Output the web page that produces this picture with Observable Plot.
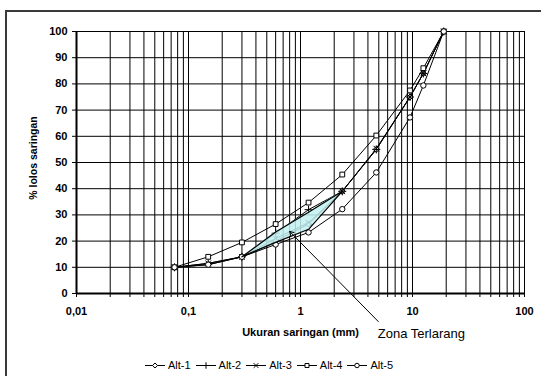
<!DOCTYPE html>
<html>
<head>
<meta charset="utf-8">
<script src="https://cdn.jsdelivr.net/npm/d3@7"></script>
<script src="https://cdn.jsdelivr.net/npm/@observablehq/plot@0.6"></script>
<style>
  html, body { margin: 0; padding: 0; background: #fff; overflow: hidden; }
  body { width: 541px; height: 376px; position: relative; font-family: "Liberation Sans", Arial, sans-serif; }
  #frame { position: absolute; left: 5px; top: 10px; width: 600px; height: 420px; border: 2px solid #3a3a3a; box-sizing: border-box; pointer-events: none; }
  #chart { position: absolute; left: 0; top: 0; }
  #ytitle { position: absolute; left: 33px; top: 158px; transform: translate(-50%, -50%) rotate(-90deg); font-weight: bold; font-size: 10.5px; white-space: nowrap; color: #000; }
  #legend { position: absolute; left: 0; top: 355px; width: 538px; height: 20px; display: flex; justify-content: center; align-items: center; font-size: 11px; color: #000; }
  .item { display: flex; align-items: center; margin: 0 2.5px; }
  .item span { margin-left: 3px; }
</style>
</head>
<body>
<div id="chart"></div>
<div id="ytitle">% lolos saringan</div>
<div id="legend"></div>
<div id="frame"></div>
<script>
// Sieve sizes (mm)
const sizes = [0.075, 0.15, 0.3, 0.6, 1.18, 2.36, 4.75, 9.5, 12.5, 19];
// % passing for each alternative
const alt1 = [10, 11, 14, 20, 26.5, 39, 55, 75, 84, 100];
const alt2 = [10, 11.5, 14, 23, 32, 39, 55, 75, 84, 100];
const alt3 = [10, 11.5, 14, 21, 27, 39, 55.3, 75, 84, 100];
const alt4 = [10, 14, 19.5, 26.5, 34.7, 45.4, 60.3, 77.5, 86, 100];
const alt5 = [10, 11, 14, 18.7, 23.3, 32.2, 46.2, 67.2, 79.4, 100];
const seriesNames = ["Alt-1", "Alt-2", "Alt-3", "Alt-4", "Alt-5"];
const seriesSymbols = ["diamond2", "plus", "times", "square", "circle"];

// Restricted zone (Zona Terlarang)
const zoneX = [0.3, 0.6, 1.18, 2.36];
const zoneLow = [14, 19.5, 24.5, 39];
const zoneHigh = [14, 23.5, 31, 39];

// Annotation (data units)
const noteText = "Zona Terlarang";
const noteTextPos = [12, -15.3];
const noteArrowFrom = [4.95, -10.7];
const noteArrowTo = [0.8, 23.7];

// Axis ticks
const xTickLabels = [0.01, 0.1, 1, 10, 100];
const yTicks = [0, 10, 20, 30, 40, 50, 60, 70, 80, 90, 100];

const allSeries = [alt1, alt2, alt3, alt4, alt5];
const rows = [];
seriesNames.forEach((name, k) => {
  sizes.forEach((s, i) => rows.push({series: name, x: s, y: allSeries[k][i]}));
});
const zone = zoneX.map((x, i) => ({x, lo: zoneLow[i], hi: zoneHigh[i]}));
const zoneOutline = [...zone.map(d => ({x: d.x, y: d.hi})), ...zone.slice().reverse().map(d => ({x: d.x, y: d.lo}))];

const gridX = [];
for (let e = -2; e < 2; e++) for (let m = 1; m <= 9; m++) gridX.push(m * Math.pow(10, e));
gridX.push(100);

const font = "'Liberation Sans', Arial, sans-serif";

const chart = Plot.plot({
  width: 541,
  height: 345,
  marginLeft: 76,
  marginRight: 17,
  marginTop: 31,
  marginBottom: 52,
  x: {type: "log", domain: [0.01, 100]},
  y: {domain: [0, 100]},
  symbol: {domain: seriesNames, range: seriesSymbols},
  style: {fontFamily: font, fontSize: "11px", background: "transparent", overflow: "visible", color: "#000"},
  marks: [
    Plot.ruleX(gridX, {stroke: "#000", strokeWidth: 1}),
    Plot.ruleY(yTicks, {stroke: "#000", strokeWidth: 1}),
    Plot.line(rows, {x: "x", y: "y", z: "series", stroke: "#000", strokeWidth: 1}),
    Plot.dot(rows, {x: "x", y: "y", symbol: "series", r: 2.7, stroke: "#000", fill: "white", strokeWidth: 1}),
    Plot.areaY(zone, {x: "x", y1: "lo", y2: "hi", fill: "#c2f1f2", fillOpacity: 0.85}),
    Plot.line(zoneOutline, {x: "x", y: "y", stroke: "#000", strokeWidth: 1.2}),
    Plot.ruleY([0], {stroke: "#000", strokeWidth: 2}),
    Plot.ruleX([0.01], {stroke: "#000", strokeWidth: 2}),
    Plot.axisY({ticks: yTicks, tickSize: 4, tickPadding: 5, fontWeight: "bold", label: null}),
    Plot.axisX({ticks: gridX, tickSize: 4, tickFormat: () => "", label: null}),
    Plot.axisX({ticks: xTickLabels, tickSize: 0, tickPadding: 14, fontWeight: "bold", tickFormat: d => String(d).replace(".", ","), label: null}),
    Plot.arrow([0], {x1: () => noteArrowFrom[0], y1: () => noteArrowFrom[1], x2: () => noteArrowTo[0], y2: () => noteArrowTo[1], stroke: "#000", strokeWidth: 1, headLength: 7, clip: false}),
    Plot.text([noteText], {x: () => noteTextPos[0], y: () => noteTextPos[1], text: d => d, fontSize: 13, fill: "#000", clip: false}),
    Plot.text(["Ukuran saringan (mm)"], {frameAnchor: "bottom", dy: 42, fontWeight: "bold", fontSize: 11, fill: "#000"})
  ]
});
document.getElementById("chart").appendChild(chart);

// Legend
const legend = d3.select("#legend");
const d3Symbols = {diamond2: d3.symbolDiamond2, plus: d3.symbolPlus, times: d3.symbolTimes, square: d3.symbolSquare, circle: d3.symbolCircle};
seriesNames.forEach((name, k) => {
  const item = legend.append("div").attr("class", "item");
  const svg = item.append("svg").attr("width", 20).attr("height", 10);
  svg.append("line").attr("x1", 0).attr("x2", 20).attr("y1", 5.5).attr("y2", 5.5).attr("stroke", "#000").attr("stroke-width", 1);
  svg.append("path").attr("transform", "translate(10,5.5)")
    .attr("d", d3.symbol(d3Symbols[seriesSymbols[k]], 16)())
    .attr("fill", "white").attr("stroke", "#000").attr("stroke-width", 1);
  item.append("span").text(name);
});
</script>
</body>
</html>
